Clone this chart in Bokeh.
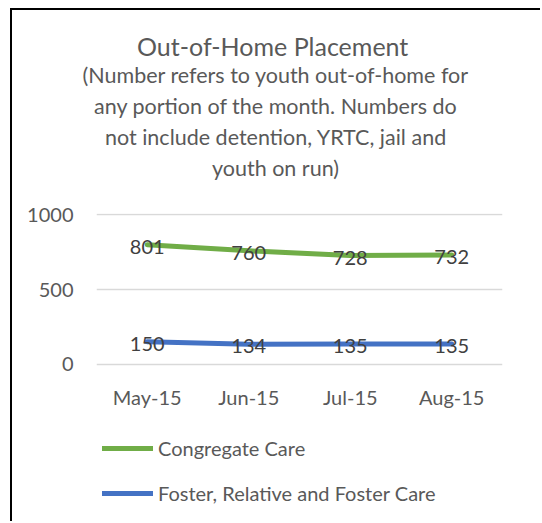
from bokeh.plotting import figure
from bokeh.models import Range1d, FixedTicker, Legend, LegendItem, Title
from bokeh.core.properties import value
from bokeh.embed import file_html
from bokeh.resources import INLINE

months = ["May-15", "Jun-15", "Jul-15", "Aug-15"]
congregate = [801, 760, 728, 732]
foster = [150, 134, 135, 135]
series_names = ["Congregate Care", "Foster, Relative and Foster Care"]
y_ticks = [0, 500, 1000]
title_text = "Out-of-Home Placement"
subtitle_lines = [
    "(Number refers to youth out-of-home for",
    "any portion of the month.  Numbers do",
    "not include detention, YRTC, jail and",
    "youth on run)",
]

FONT = "Lato"
GREY = "#595959"
GREEN = "#70AD47"
BLUE = "#4472C4"

# the plot frame also holds the legend area below the value 0
p = figure(
    x_range=months, y_range=Range1d(-1000, 1010),
    width=530, height=513, title=None,
    output_backend="svg", toolbar_location=None,
    min_border_left=84, min_border_right=40,
    min_border_top=203, min_border_bottom=10,
    styles={"margin-left": "10px", "margin-top": "8px",
            "border-left": "2px solid #000000", "border-top": "2px solid #000000"},
)
p.outline_line_color = None
p.x_range.range_padding = 0

p.xgrid.grid_line_color = None
p.ygrid.grid_line_color = "#D9D9D9"
p.ygrid.grid_line_width = 1.3

p.yaxis.ticker = FixedTicker(ticks=y_ticks)
p.xaxis.fixed_location = 0
for ax in (p.xaxis, p.yaxis):
    ax.axis_line_color = None
    ax.major_tick_line_color = None
    ax.minor_tick_line_color = None
    ax.major_label_text_font = FONT
    ax.major_label_text_color = GREY
    ax.major_label_text_font_size = "20px"
p.yaxis.major_label_standoff = 17
p.xaxis.major_label_standoff = 15

r1 = p.line(months, congregate, line_color=GREEN, line_width=5, line_cap="round", line_join="round")
r2 = p.line(months, foster, line_color=BLUE, line_width=5, line_cap="round", line_join="round")

for vals in (congregate, foster):
    p.text(months, vals, text=[str(v) for v in vals], text_font=value(FONT),
           text_font_size="20px", text_color="#404040", text_align="center",
           text_baseline="middle", y_offset=2)

# spacer between the heading block and the plot area
p.add_layout(Title(text=" ", text_font_size="1px", standoff=28), "above")
# title + subtitle lines, added bottom-up (later = higher)
sub_offsets = [-14, -2.5, 8.5, 115.5]
for t, off in reversed(list(zip(subtitle_lines, sub_offsets))):
    p.add_layout(Title(text=t, align="left", offset=off, standoff=3,
                       text_font=FONT, text_font_size="21.5px", text_color=GREY,
                       text_font_style="normal"), "above")
p.add_layout(Title(text=title_text, align="left", offset=40.5, standoff=-4,
                   text_font=FONT, text_font_size="25px", text_color=GREY,
                   text_font_style="normal"), "above")

legend = Legend(
    items=[LegendItem(label=series_names[0], renderers=[r1]),
           LegendItem(label=series_names[1], renderers=[r2])],
    location=(6, 8), orientation="vertical",
    glyph_width=51, glyph_height=24, label_height=24, label_standoff=5,
    spacing=21, padding=0, margin=0,
    label_text_font=FONT, label_text_font_size="20px", label_text_color=GREY,
    border_line_color=None, background_fill_alpha=0,
)
p.add_layout(legend, "center")

open("out.html", "w").write(file_html(p, INLINE))
